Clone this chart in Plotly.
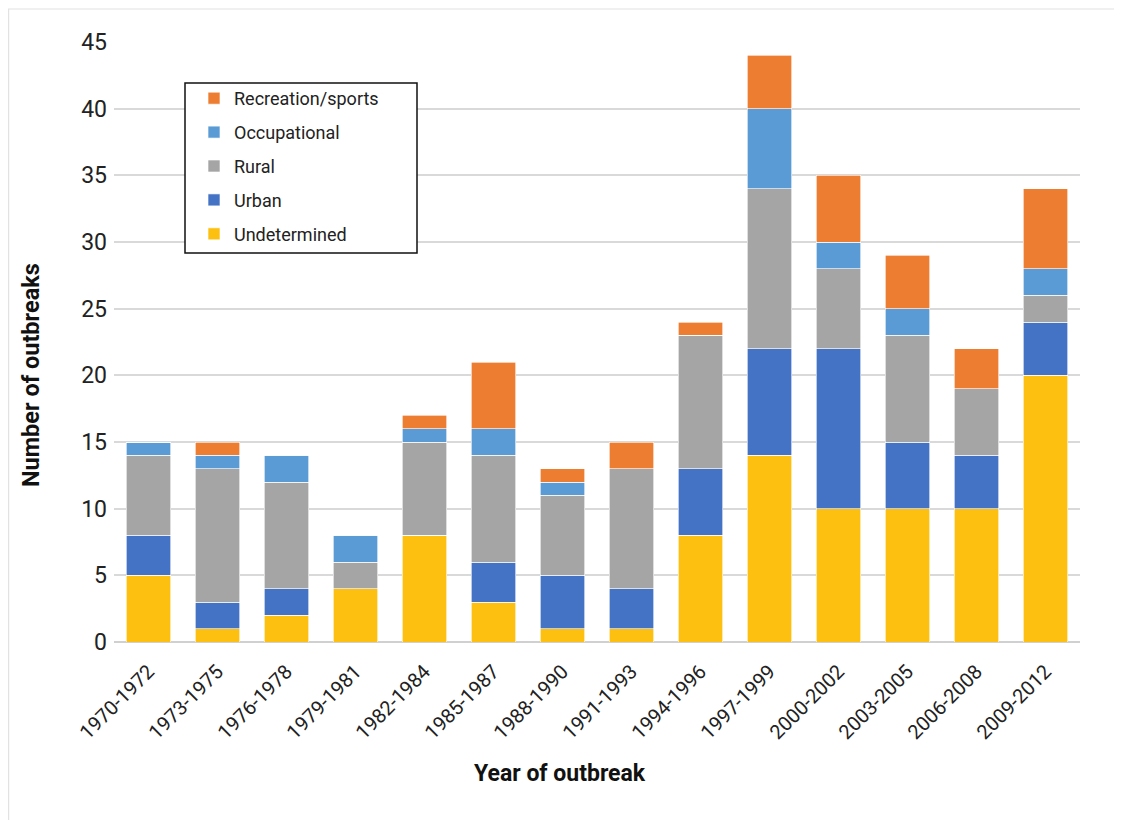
import plotly.graph_objects as go

periods = ["1970-1972", "1973-1975", "1976-1978", "1979-1981", "1982-1984", "1985-1987",
           "1988-1990", "1991-1993", "1994-1996", "1997-1999", "2000-2002", "2003-2005",
           "2006-2008", "2009-2012"]
undetermined = [5, 1, 2, 4, 8, 3, 1, 1, 8, 14, 10, 10, 10, 20]
urban        = [3, 2, 2, 0, 0, 3, 4, 3, 5, 8, 12, 5, 4, 4]
rural        = [6, 10, 8, 2, 7, 8, 6, 9, 10, 12, 6, 8, 5, 2]
occupational = [1, 1, 2, 2, 1, 2, 1, 0, 0, 6, 2, 2, 0, 2]
recreation   = [0, 1, 0, 0, 1, 5, 1, 2, 1, 4, 5, 4, 3, 6]

series = [
    ("Undetermined", undetermined, "#FDC010", 5),
    ("Urban", urban, "#4472C4", 4),
    ("Rural", rural, "#A5A5A5", 3),
    ("Occupational", occupational, "#5B9BD5", 2),
    ("Recreation/sports", recreation, "#ED7D31", 1),
]

FONT = "Roboto, Liberation Sans, sans-serif"

fig = go.Figure()
for name, vals, col, rank in series:
    fig.add_trace(go.Bar(
        x=periods, y=vals, name=name, legendgroup=name, legendrank=rank,
        marker=dict(color=col, line=dict(color="rgba(255,255,255,0.8)", width=0.8)),
    ))

W, H = 1114, 812
L, T = 106, 34
PW, PH = 966, 600

def px(x):
    return (x - 8 - L) / PW

def py(y):
    return (T + PH - (y - 8)) / PH

fig.update_layout(
    barmode="stack",
    bargap=0.35,
    width=W, height=H,
    margin=dict(l=L, r=W - L - PW, t=T, b=H - T - PH),
    paper_bgcolor="white", plot_bgcolor="white",
    font=dict(family=FONT, color="#222222"),
    showlegend=True,
    legend=dict(
        x=px(194), y=py(80), xanchor="left", yanchor="top",
        traceorder="grouped", tracegroupgap=7.5,
        borderwidth=0, bgcolor="rgba(255,255,255,0)",
        font=dict(family=FONT, size=18, color="#222222"),
    ),
    xaxis=dict(
        tickangle=-45, tickfont=dict(family=FONT, size=20, color="#222222"),
        showgrid=False, showline=False, ticks="", ticklabelstandoff=13,
    ),
    yaxis=dict(
        range=[0, 45], dtick=5, tickfont=dict(family=FONT, size=23, color="#222222"),
        showgrid=True, gridcolor="#D9D9D9", gridwidth=1.5,
        zeroline=True, zerolinecolor="#D0D0D0", zerolinewidth=1.5,
        ticks="", ticklen=0, ticklabelstandoff=6,
    ),
    annotations=[
        dict(text="<b>Year of outbreak</b>", xref="paper", yref="paper",
             x=px(560), y=py(773), xanchor="center", yanchor="middle", showarrow=False,
             font=dict(family=FONT, size=23, color="#111111")),
        dict(text="<b>Number of outbreaks</b>", xref="paper", yref="paper",
             x=px(31), y=py(375), xanchor="center", yanchor="middle", showarrow=False,
             textangle=-90, font=dict(family=FONT, size=23.5, color="#111111")),
    ],
    shapes=[
        dict(type="rect", xref="paper", yref="paper",
             x0=(0.6 - L) / PW, x1=1.2, y0=-0.5, y1=py(9),
             line=dict(color="#E2E2E2", width=1.2), fillcolor="rgba(0,0,0,0)", layer="below"),
        dict(type="rect", xref="paper", yref="paper",
             x0=px(185), x1=px(417), y0=py(253), y1=py(83),
             line=dict(color="#111111", width=1.5), fillcolor="white", layer="above"),
    ],
)

fig.write_html("out.html")
